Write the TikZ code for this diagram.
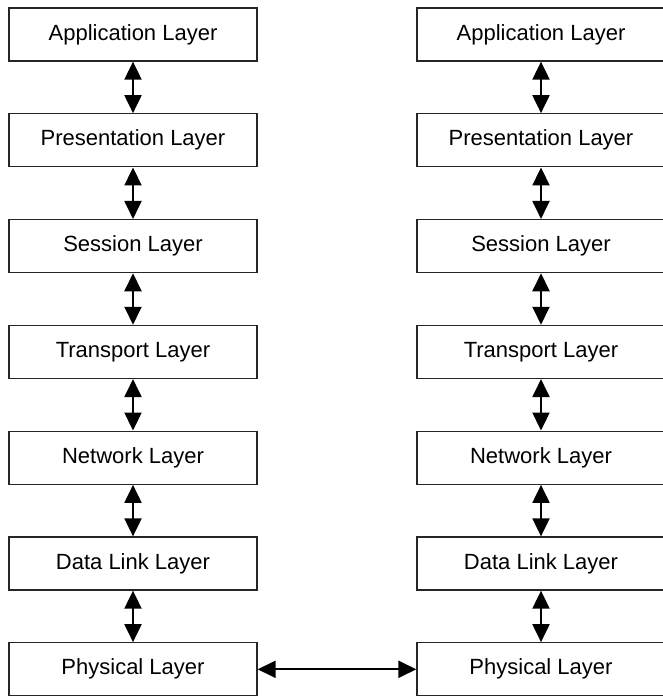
\documentclass[tikz,border=0pt]{standalone}
\usepackage{fontspec}
\setmainfont{Liberation Sans}
\usetikzlibrary{arrows.meta}
\begin{document}
\begin{tikzpicture}[x=1pt,y=-1pt,
  layer/.style={draw=black!85,line width=1.3pt,minimum width=248pt,minimum height=53pt,inner sep=0pt,font=\fontsize{22}{24}\selectfont},
  link/.style={line width=2pt,{Triangle[length=18pt,width=17pt]}-{Triangle[length=18pt,width=17pt]}}]
\useasboundingbox (0,0) rectangle (662,696);
\foreach \i/\t in {0/Application,1/Presentation,2/Session,3/Transport,4/Network,5/Data Link,6/Physical}{
  \node[layer] (L\i) at (133,{34.5+105.8*\i}) {\t\ Layer};
  \node[layer] (R\i) at (541,{34.5+105.8*\i}) {\t\ Layer};
}
\foreach \i [evaluate=\i as \j using int(\i+1)] in {0,...,5}{
  \draw[link] (L\i.south) -- (L\j.north);
  \draw[link] (R\i.south) -- (R\j.north);
}
\draw[link] (L6.east) -- (R6.west);
\end{tikzpicture}
\end{document}
